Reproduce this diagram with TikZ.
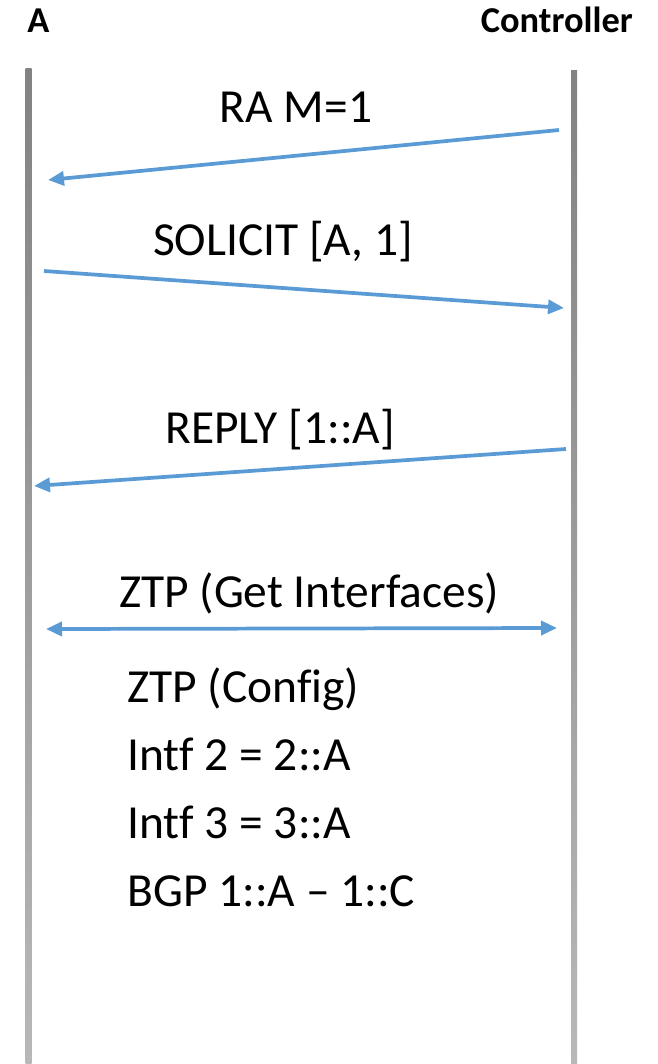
\documentclass[tikz,border=0pt]{standalone}
\usepackage{fontspec}
\setmainfont[Ligatures={NoCommon,NoContextual,NoRare}]{Carlito}
\usetikzlibrary{arrows.meta}
\definecolor{msgblue}{HTML}{5B9BD5}
\definecolor{lifetop}{HTML}{828282}
\definecolor{lifebot}{HTML}{B8B8B8}
% break letter pairs apart so they are set without ligatures
\newcommand{\nolig}{\kern0pt}
\tikzset{
  msg/.style={draw=msgblue, line width=2.8pt, -{Triangle[length=12pt,width=10.5pt]}},
  msgboth/.style={draw=msgblue, line width=2.8pt, {Triangle[length=12pt,width=10.5pt]}-{Triangle[length=12pt,width=10.5pt]}},
  lbl/.style={font=\fontsize{35.6}{40}\selectfont, inner sep=0pt, anchor=base},
  cfg/.style={font=\fontsize{35.6}{40}\selectfont, inner sep=0pt, anchor=base west},
  head/.style={font=\fontsize{27.3}{31}\selectfont\bfseries, inner sep=0pt},
  lifeline/.style={top color=lifetop, bottom color=lifebot, draw=none}
}
\begin{document}
\begin{tikzpicture}[x=0.75pt, y=-0.75pt]
\useasboundingbox (0,0) rectangle (657,1064);

% participants
\node[head, anchor=base west] (pa) at (27,32) {A};
\node[head, anchor=base east] (pc) at (633,32) {Controller};

% lifelines
\shade[lifeline] (25.5,68) rectangle (31.5,1064);
\shade[lifeline] (571,70) rectangle (577,1064);

% message end points
\coordinate (ra-s) at (559,130);
\coordinate (ra-e) at (48,180);
\coordinate (so-s) at (44,271);
\coordinate (so-e) at (564,308);
\coordinate (re-s) at (566,449);
\coordinate (re-e) at (34,486);
\coordinate (zt-s) at (46,629);
\coordinate (zt-e) at (557,628);

% messages
\draw[msg] (ra-s) -- (ra-e);
\node[lbl] (l-ra) at (296,122) {RA M=1};

\draw[msg] (so-s) -- (so-e);
\node[lbl] (l-so) at (283,255) {SOLICIT [A, 1]};

\draw[msg] (re-s) -- (re-e);
\node[lbl] (l-re) at (280,443) {REPLY [1::A]};

\draw[msgboth] (zt-s) -- (zt-e);
\node[lbl] (l-zt) at (309,607) {ZTP (Get Interfaces)};

% configuration pushed to A
\node[cfg] (c1) at (127,702) {ZTP (Conf\nolig ig)};
\node[cfg] (c2) at (127,770) {Int\nolig f 2 = 2::A};
\node[cfg] (c3) at (127,838) {Int\nolig f 3 = 3::A};
\node[cfg] (c4) at (127,906) {BGP 1::A – 1::C};
\end{tikzpicture}
\end{document}
